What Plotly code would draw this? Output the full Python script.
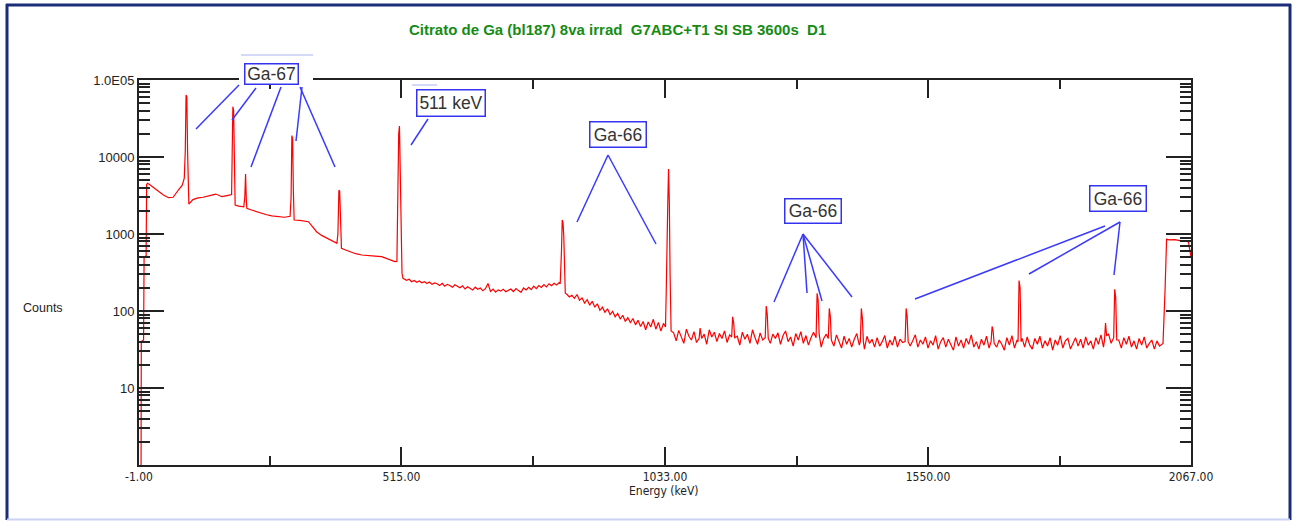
import plotly.graph_objects as go

# ---------------- DATA ----------------
# Low-energy part, hand-read points (keV, counts)
energy_a = [-1, 3, 3.5, 8, 9, 13, 14, 16, 21, 30, 37, 47, 57, 66, 76, 84, 88,
            90, 91.5, 93, 94.5, 96, 97, 105, 115, 125, 135, 142, 150, 162, 172, 181,
            182, 183.5, 185, 186.5, 188, 195, 205, 207, 208.5, 210, 211, 220, 230,
            240, 250, 260, 273, 285, 296, 298, 299.5, 301, 302.5, 304, 315, 325,
            332, 340, 348, 358, 368, 378, 388, 390, 392, 393.5, 395, 397, 405, 415,
            425, 437, 450, 463, 476, 490, 502, 506, 507.5, 509.5, 511, 512.5, 514,
            516, 518]
counts_a = [0.5, 0.5, 40, 42, 500, 520, 4400, 4550, 4330, 3900, 3550, 3200, 2960,
            3000, 3700, 4300, 5300,
            12000, 64000, 60000, 12000, 2500, 2450, 2800, 2950, 3000, 3150, 3200,
            3300, 3050, 3150, 3250,
            9000, 45000, 40000, 8500, 2380, 2300, 2250, 3000, 6000, 2700, 2160, 2050,
            1950, 1860, 1780, 1720, 1680, 1650, 1700, 3000, 19000, 17000, 3500, 1520,
            1500, 1470, 1445, 1250, 1070, 960, 880, 810, 757, 1000, 3700, 3600, 1100,
            652, 620, 580, 555, 534, 520, 515, 507, 470, 437, 440, 6400, 20000, 25300,
            6400, 1200, 309, 266]

# 520-825 keV on a 5 keV grid
b_start, b_step = 520, 5
counts_b = [262, 250, 258, 240, 249, 236, 246, 233, 241, 228, 238, 222, 232, 226,
            215, 229, 210, 222, 214, 203, 219, 207,
            200, 212, 193, 206, 198, 187, 204, 192, 199, 183, 195, 228, 180, 192,
            176, 188, 181, 192, 178, 186,
            193, 179, 196, 184, 175, 199, 188, 203, 190, 210, 195, 214, 202, 220,
            206, 226, 213, 229, 218, 234]

# Ga-66 833 keV peak
peak833_e = [827, 829.5, 831, 832.5, 834, 835.5, 837]
peak833_c = [226, 600, 1520, 1400, 950, 400, 170]

# 840-1030 keV on a 5 keV grid
c_start, c_step = 840, 5
counts_c = [165, 152, 160, 146, 164, 138, 148, 127, 140, 119, 134, 112, 124, 102,
            112, 96, 107, 90, 99, 84, 93, 79, 88, 73, 82, 71, 80, 66, 76, 63, 73, 57,
            72, 62, 78, 58, 71, 55, 69]

# Ga-66 1039 keV peak
peak1039_e = [1034, 1035.5, 1037, 1038.5, 1040, 1041.5, 1043, 1045]
peak1039_c = [62, 190, 1250, 2600, 6980, 2600, 300, 55]

# 1050-2010 keV background on a 5 keV grid
d_start, d_step = 1050, 5
counts_d = [52, 41, 56, 45, 38, 58, 47, 42, 54, 39, 60, 44, 50, 37, 57, 46, 53, 40, 51, 44,
            55, 39, 49, 58, 41, 47, 36, 53, 43, 50, 38, 57, 45, 37, 52, 42, 55, 46, 38, 50,
            44, 52, 37, 48, 55, 40, 46, 35, 51, 42, 54, 38, 48, 36, 45, 53, 40, 47, 34, 44,
            50, 38, 45, 35, 49, 40, 33, 47, 37, 44, 34, 43, 51, 36, 41, 32, 47, 38, 43, 34,
            45, 35, 40, 48, 33, 42, 36, 47, 34, 43, 39, 32, 46, 35, 41, 49, 34, 42, 37, 46,
            33, 41, 36, 48, 32, 40, 45, 34, 43, 37, 31, 46, 35, 42, 33, 44, 37, 49, 34, 40,
            32, 43, 36, 47, 33, 40, 50, 34, 42, 37, 31, 45, 36, 48, 33, 42, 37, 44, 34, 46,
            36, 32, 44, 37, 47, 33, 41, 35, 45, 31, 42, 36, 48, 33, 41, 44, 32, 38, 45, 35,
            43, 33, 46, 36, 41, 32, 45, 37, 49, 34, 43, 50, 38, 46, 35, 42, 33, 45, 37, 47,
            34, 41, 32, 44, 36, 46, 33, 38, 42, 32, 41, 35, 37]

# peaks sitting on the 1050-2010 keV background
peaks_d_e = [[1100, 1102, 1104],
             [1164, 1166, 1168, 1170],
             [1230, 1232, 1234, 1236],
             [1330, 1332, 1334, 1336],
             [1354, 1356, 1358, 1360],
             [1417, 1419, 1421, 1423],
             [1505, 1507, 1509, 1511],
             [1674, 1676, 1678, 1680],
             [1727, 1729, 1731, 1733],
             [1897, 1899, 1901],
             [1915, 1917, 1919, 1921]]
peaks_d_c = [[44, 60, 45],
             [46, 84, 70, 45],
             [45, 116, 90, 44],
             [45, 170, 140, 50],
             [44, 108, 85, 42],
             [40, 108, 80, 40],
             [40, 108, 85, 40],
             [40, 63, 55, 38],
             [40, 248, 200, 40],
             [42, 70, 48],
             [45, 191, 150, 42]]

# top end of the spectrum
energy_e = [2012, 2016, 2019, 2025, 2035, 2045, 2055, 2062, 2065, 2067]
counts_e = [38, 187, 853, 840, 845, 820, 815, 790, 566, 500]

# axis ticks
x_tickvals = [-1, 515, 1033, 1550, 2067]
x_ticktext = ["-1.00", "515.00", "1033.00", "1550.00", "2067.00"]
x_minor = [257, 774, 1291.5, 1808.5]
y_tickvals = [10, 100, 1000, 10000, 100000]
y_ticktext = ["10", "100", "1000", "10000", "1.0E05"]
y_minor = [m * 10 ** k for k in range(0, 5) for m in range(2, 10)]

title_text = "Citrato de Ga (bl187) 8va irrad\u00a0\u00a0G7ABC+T1 SI SB 3600s\u00a0\u00a0D1"

# ---------------- assemble spectrum ----------------
E = list(energy_a)
C = list(counts_a)
E += [b_start + b_step * i for i in range(len(counts_b))]
C += counts_b
E += peak833_e
C += peak833_c
E += [c_start + c_step * i for i in range(len(counts_c))]
C += counts_c
E += peak1039_e
C += peak1039_c

d_pts = []
for i, c in enumerate(counts_d):
    e = d_start + d_step * i
    if any(pe[0] <= e <= pe[-1] for pe in peaks_d_e):
        continue
    d_pts.append((e, c))
for pe, pc in zip(peaks_d_e, peaks_d_c):
    d_pts += list(zip(pe, pc))
d_pts.sort()
E += [p[0] for p in d_pts]
C += [p[1] for p in d_pts]
E += energy_e
C += counts_e

# ---------------- figure ----------------
L, R, T, B = 139, 1191, 80, 465
FW, FH = 1293, 521


def px(x):
    return (x - L) / (R - L)


def py(y):
    return (B - y) / (B - T)


fig = go.Figure(go.Scatter(x=E, y=C, mode="lines",
                           line=dict(color="#ff0000", width=1.2),
                           hoverinfo="skip"))

AX = "#222222"
narrow = ("DejaVu Sans Condensed, Liberation Sans Narrow, Arial Narrow, "
          "Liberation Sans, Arial, sans-serif")
sans = "Liberation Sans, Arial, sans-serif"

fig.update_layout(
    width=FW, height=FH,
    margin=dict(l=L, r=FW - R, t=T, b=FH - B, pad=0),
    paper_bgcolor="white", plot_bgcolor="white",
    showlegend=False,
)
fig.update_xaxes(
    range=[-1, 2067], tickvals=x_tickvals, ticktext=x_ticktext,
    ticks="inside", ticklen=18, tickwidth=1.5, tickcolor=AX,
    showline=True, linecolor=AX, linewidth=2, mirror="ticks",
    showgrid=False, zeroline=False,
    tickfont=dict(family=narrow, size=12, color=AX),
    minor=dict(tickvals=x_minor, ticks="inside", ticklen=9, tickwidth=1.5,
               tickcolor=AX, showgrid=False),
)
fig.update_yaxes(
    type="log", range=[0, 5], tickvals=y_tickvals, ticktext=y_ticktext,
    ticks="inside", ticklen=25, tickwidth=1.5, tickcolor=AX,
    showline=True, linecolor=AX, linewidth=2, mirror="ticks",
    showgrid=False, zeroline=False,
    tickfont=dict(family=sans, size=13, color=AX),
    minor=dict(tickvals=y_minor, ticks="inside", ticklen=11, tickwidth=1.5,
               tickcolor=AX, showgrid=False),
)

shapes = []
# outer frame
NAVY = "#1b2c78"
shapes.append(dict(type="line", xref="paper", yref="paper", x0=px(6), x1=px(1291),
                   y0=py(5), y1=py(5), line=dict(color=NAVY, width=3), layer="above"))
shapes.append(dict(type="line", xref="paper", yref="paper", x0=px(7), x1=px(7),
                   y0=py(4), y1=py(520), line=dict(color=NAVY, width=3), layer="above"))
shapes.append(dict(type="line", xref="paper", yref="paper", x0=px(1290), x1=px(1290),
                   y0=py(4), y1=py(520), line=dict(color=NAVY, width=3), layer="above"))
shapes.append(dict(type="line", xref="paper", yref="paper", x0=px(7), x1=px(1290),
                   y0=py(519.5), y1=py(519.5), line=dict(color="#c9d2f5", width=2),
                   layer="above"))
# gap in the top axis line behind the Ga-67 label
shapes.append(dict(type="rect", xref="paper", yref="paper", x0=px(239), x1=px(313),
                   y0=py(83), y1=py(76), line=dict(width=0), fillcolor="white",
                   layer="above"))
# faint guide lines
FAINT = "#c6cef2"
shapes.append(dict(type="line", xref="paper", yref="paper", x0=px(241), x1=px(313),
                   y0=py(55), y1=py(55), line=dict(color=FAINT, width=1.5), layer="above"))
shapes.append(dict(type="line", xref="paper", yref="paper", x0=px(412), x1=px(437),
                   y0=py(85), y1=py(85), line=dict(color=FAINT, width=1.5), layer="above"))

# pointer lines (pixel positions)
BLUE = "#3a3aff"
pointer_lines = [
    ((239, 85), (196, 129)), ((256, 88), (232, 120)), ((281, 87), (251, 167)),
    ((302, 87), (296, 141)), ((300, 87), (335, 167)),
    ((428, 119), (411, 145)),
    ((608, 155), (577, 222)), ((608, 155), (656, 244)),
    ((803, 234), (774, 302)), ((803, 234), (807, 293)), ((803, 234), (822, 301)),
    ((803, 234), (852, 297)),
    ((1105, 226), (915, 299)), ((1120, 222), (1029, 274)), ((1120, 222), (1114, 275)),
]
for (xa, ya), (xb, yb) in pointer_lines:
    shapes.append(dict(type="line", xref="paper", yref="paper",
                       x0=px(xa), y0=py(ya), x1=px(xb), y1=py(yb),
                       line=dict(color=BLUE, width=1.5), layer="above"))
fig.update_layout(shapes=shapes)

annotations = []
BOXC = "#3434f0"
boxes = [("Ga-67", 271.5, 74, 50, 17),
         ("511 keV", 451, 103, 65, 23),
         ("Ga-66", 618, 134.5, 53, 22),
         ("Ga-66", 813, 211, 53, 21),
         ("Ga-66", 1118, 198.5, 53, 22)]
for txt, cx, cy, w, h in boxes:
    annotations.append(dict(text=txt, xref="paper", yref="paper", x=px(cx), y=py(cy),
                            xanchor="center", yanchor="middle", showarrow=False,
                            width=w, height=h, bgcolor="white", bordercolor=BOXC,
                            borderwidth=1.5, borderpad=1,
                            font=dict(family=sans, size=17.5, color="#333333")))
annotations.append(dict(text="<b>" + title_text + "</b>", xref="paper", yref="paper",
                        x=px(617), y=py(29), xanchor="center", yanchor="middle",
                        showarrow=False,
                        font=dict(family=sans, size=15, color="#158c15")))
annotations.append(dict(text="Counts", xref="paper", yref="paper", x=px(43), y=py(308),
                        xanchor="center", yanchor="middle", showarrow=False,
                        font=dict(family=sans, size=12.5, color=AX)))
annotations.append(dict(text="Energy (keV)", xref="paper", yref="paper", x=px(663),
                        y=py(491), xanchor="center", yanchor="middle", showarrow=False,
                        font=dict(family=narrow, size=12, color=AX)))
fig.update_layout(annotations=annotations)

fig.write_html("out.html")
